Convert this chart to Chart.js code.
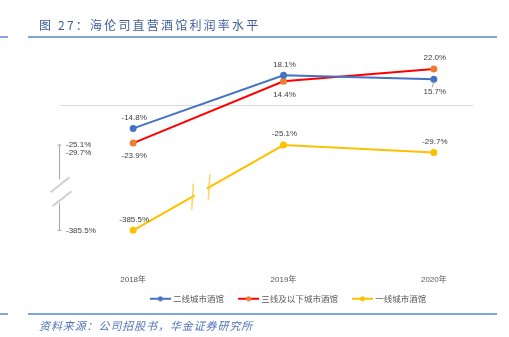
<!DOCTYPE html>
<html lang="zh-CN">
<head>
  <meta charset="UTF-8">
  <title>海伦司直营酒馆利润率水平</title>
  <script src="https://cdn.jsdelivr.net/npm/chart.js"></script>
  <style>
    body { margin: 0; background: #fff; }
    #wrap { position: relative; width: 509px; height: 337px; overflow: hidden; }
    #chart { position: absolute; left: 0; top: 0; }
    .title {
      position: absolute; left: 39px; top: 16px;
      font: 12px "Noto Sans CJK SC", sans-serif; letter-spacing: 2.2px;
      color: #3f5d9c; white-space: nowrap;
    }
    .source {
      position: absolute; left: 39px; top: 317px;
      font: italic 11px "Noto Sans CJK SC", sans-serif; letter-spacing: 0.9px;
      color: #4f73b8; white-space: nowrap;
    }
    .rule { position: absolute; height: 2px; background: #7fa7d9; }
  </style>
</head>
<body>
  <div id="wrap">
    <canvas id="chart" width="509" height="337"></canvas>
    <div class="title">图&nbsp;27：海伦司直营酒馆利润率水平</div>
    <div class="rule" style="left:0;width:8px;top:36px"></div>
    <div class="rule" style="left:28px;width:469px;top:36px"></div>
    <div class="rule" style="left:0;width:8px;top:313px"></div>
    <div class="rule" style="left:28px;width:469px;top:313px"></div>
    <div class="source">资料来源：公司招股书，华金证券研究所</div>
  </div>

  <script>
    const years = ['2018年', '2019年', '2020年'];
    const tier2 = [-14.8, 18.1, 15.7];     // 二线城市酒馆
    const tier3 = [-23.9, 14.4, 22.0];     // 三线及以下城市酒馆
    const tier1 = [-385.5, -25.1, -29.7];  // 一线城市酒馆
    const yTicks = [-25.1, -29.7, -385.5];

    // the axis jumps from -35 straight to -380; everything in between is squeezed into a short gap
    const breakTop = -35, breakBottom = -380, breakGap = 37.5;
    function squeeze(v) {
      if (v >= breakTop) return v;
      if (v <= breakBottom) return v - breakBottom + breakTop - breakGap;
      return breakTop - (breakTop - v) / (breakTop - breakBottom) * breakGap;
    }

    const LinearScale = Chart.LinearScale || Chart.registry.getScale('linear');
    class BrokenLinearScale extends LinearScale {
      getPixelForValue(value) {
        return super.getPixelForValue(squeeze(value));
      }
    }
    BrokenLinearScale.id = 'brokenLinear';
    BrokenLinearScale.defaults = LinearScale.defaults;
    Chart.register(BrokenLinearScale);

    const latin = '"Liberation Sans", "Noto Sans CJK SC", sans-serif';
    Chart.defaults.font.family = latin;
    Chart.defaults.color = '#595959';

    // legend swatch: line with a dot in the middle; the blank lead-in keeps items apart
    function swatch(line, dot) {
      const c = document.createElement('canvas');
      c.width = 32; c.height = 6;
      const g = c.getContext('2d');
      g.strokeStyle = line; g.lineWidth = 2;
      g.beginPath(); g.moveTo(11, 3); g.lineTo(32, 3); g.stroke();
      g.fillStyle = dot;
      g.beginPath(); g.arc(21.5, 3, 2.5, 0, Math.PI * 2); g.fill();
      return c;
    }

    const series = [
      { label: '二线城市酒馆', data: tier2, line: '#4472c4', dot: '#4472c4', place: ['above', 'above', 'below'] },
      { label: '三线及以下城市酒馆', data: tier3, line: '#ff0000', dot: '#ed7d31', place: ['below', 'below', 'above'] },
      { label: '一线城市酒馆', data: tier1, line: '#ffc000', dot: '#ffc000', place: ['above', 'above', 'above'] }
    ];

    const pct = v => v.toFixed(1) + '%';

    const decorations = {
      id: 'decorations',
      beforeDatasetsDraw(chart) {
        const { ctx, chartArea, scales } = chart;
        const y0 = scales.y.getPixelForValue(0);
        ctx.save();
        ctx.strokeStyle = '#d9d9d9';
        ctx.lineWidth = 1;
        ctx.beginPath();
        ctx.moveTo(chartArea.left + 2, Math.round(y0) + 0.5);
        ctx.lineTo(473, Math.round(y0) + 0.5);
        ctx.stroke();

        // short axis for the low series, with a break mark
        const top = scales.y.getPixelForValue(Math.max(...yTicks));
        const bot = scales.y.getPixelForValue(Math.min(...yTicks));
        const ax = chartArea.left + 1.5;
        const mid = (scales.y.getPixelForValue(breakTop) + scales.y.getPixelForValue(breakBottom)) / 2;
        ctx.strokeStyle = '#a6a6a6';
        ctx.beginPath();
        ctx.moveTo(ax, top); ctx.lineTo(ax, mid - 12);
        ctx.moveTo(ax, mid + 12); ctx.lineTo(ax, bot);
        ctx.moveTo(ax - 2, top); ctx.lineTo(ax + 2, top);
        ctx.moveTo(ax - 2, bot); ctx.lineTo(ax + 2, bot);
        ctx.stroke();
        ctx.strokeStyle = '#cfcfcf';
        ctx.lineWidth = 2;
        ctx.beginPath();
        ctx.moveTo(ax - 9, mid + 1); ctx.lineTo(ax + 10, mid - 14);
        ctx.moveTo(ax - 7, mid + 15); ctx.lineTo(ax + 12, mid);
        ctx.stroke();
        ctx.restore();
      },
      afterDatasetsDraw(chart) {
        const { ctx } = chart;
        ctx.save();

        // cut the low series between 2018 and 2019
        const pts = chart.getDatasetMeta(2).data;
        const a = pts[0], b = pts[1];
        const at = t => ({ x: a.x + (b.x - a.x) * t, y: a.y + (b.y - a.y) * t });
        const c1 = at(0.41), c2 = at(0.49);
        ctx.strokeStyle = '#ffffff';
        ctx.lineWidth = 5;
        ctx.beginPath(); ctx.moveTo(c1.x, c1.y); ctx.lineTo(c2.x, c2.y); ctx.stroke();
        ctx.strokeStyle = 'rgba(255, 200, 40, 0.75)';
        ctx.lineWidth = 1.5;
        const m1 = at(0.395), m2 = at(0.505);
        ctx.beginPath();
        ctx.moveTo(m1.x + 0.8, m1.y - 13); ctx.lineTo(m1.x - 0.8, m1.y + 13);
        ctx.moveTo(m2.x + 0.8, m2.y - 13); ctx.lineTo(m2.x - 0.8, m2.y + 13);
        ctx.stroke();

        // value labels
        ctx.font = '8px ' + latin;
        ctx.fillStyle = '#404040';
        ctx.textAlign = 'center';
        ctx.textBaseline = 'middle';
        series.forEach((s, i) => {
          chart.getDatasetMeta(i).data.forEach((p, j) => {
            const dy = s.place[j] === 'above' ? -11 : 13;
            ctx.fillText(pct(s.data[j]), p.x + 1, p.y + dy);
          });
        });

        // leader from the 2020 tier-2 point to its label
        const p = chart.getDatasetMeta(0).data[2];
        ctx.strokeStyle = '#8c8c8c';
        ctx.lineWidth = 0.8;
        ctx.beginPath(); ctx.moveTo(p.x, p.y + 2); ctx.lineTo(p.x - 1.5, p.y + 8); ctx.stroke();
        ctx.restore();
      }
    };

    new Chart(document.getElementById('chart'), {
      type: 'line',
      data: {
        labels: years,
        datasets: series.map(s => ({
          label: s.label,
          data: s.data,
          borderColor: s.line,
          backgroundColor: s.dot,
          pointBackgroundColor: s.dot,
          pointBorderColor: s.dot,
          pointRadius: 2.5,
          borderWidth: 2,
          tension: 0,
          swatch: swatch(s.line, s.dot)
        }))
      },
      options: {
        responsive: false,
        animation: false,
        events: [],
        layout: { autoPadding: false, padding: { top: 40, left: 58, right: 0, bottom: 24 } },
        scales: {
          x: {
            offset: true,
            grid: { display: false, drawTicks: false },
            border: { display: false },
            afterFit: s => { s.paddingLeft = 0; s.paddingRight = 0; },
            ticks: { padding: 5, font: { size: 8 }, color: '#595959' }
          },
          y: {
            type: 'brokenLinear',
            min: -102.5,
            max: 40,
            grid: { display: false, drawTicks: false },
            border: { display: false },
            afterFit: s => { s.width = 0; },
            afterBuildTicks: scale => { scale.ticks = yTicks.map(v => ({ value: v })); },
            ticks: {
              mirror: true,
              padding: 8,
              autoSkip: false,
              font: { size: 8 },
              color: '#404040',
              callback: v => pct(v)
            }
          }
        },
        plugins: {
          tooltip: { enabled: false },
          legend: {
            position: 'bottom',
            labels: {
              usePointStyle: true,
              pointStyleWidth: 28,
              padding: 5,
              color: '#595959',
              font: { size: 8.5, family: '"Noto Sans CJK SC", sans-serif' },
              generateLabels(chart) {
                return chart.data.datasets.map((d, i) => ({
                  text: d.label,
                  pointStyle: d.swatch,
                  fillStyle: d.borderColor,
                  strokeStyle: d.borderColor,
                  lineWidth: 0,
                  hidden: false,
                  datasetIndex: i,
                  fontColor: '#595959'
                }));
              }
            }
          }
        }
      },
      plugins: [decorations]
    });
  </script>
</body>
</html>
